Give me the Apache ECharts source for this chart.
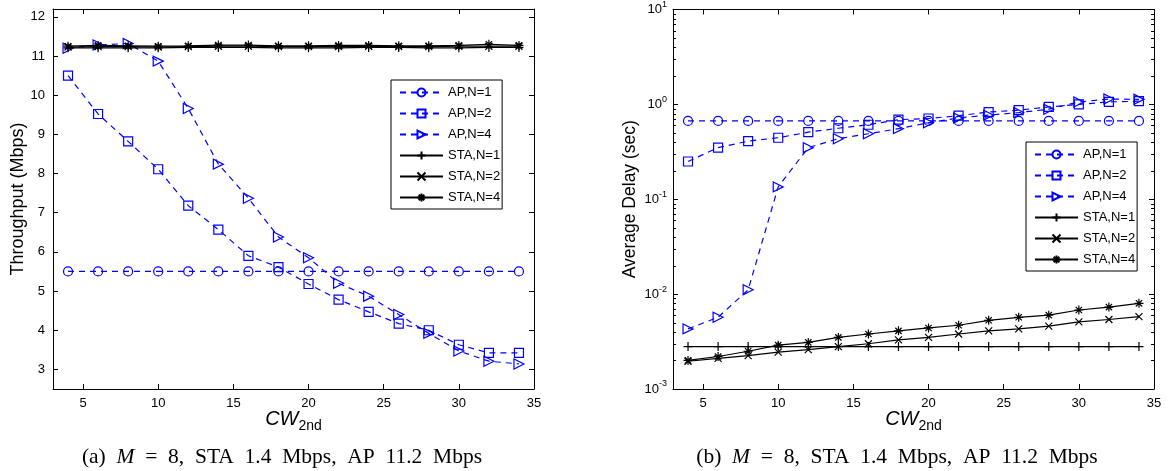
<!DOCTYPE html>
<html><head><meta charset="utf-8">
<script src="https://cdn.jsdelivr.net/npm/echarts@6/dist/echarts.min.js"></script>
<style>html,body{margin:0;padding:0;background:#fff}#c{width:1168px;height:471px}</style>
</head><body><div id="c"></div>
<script>
// ---- data ----
const cw = [4,6,8,10,12,14,16,18,20,22,24,26,28,30,32,34];
const xTicks = [5,10,15,20,25,30,35];
const tpTicks = [3,4,5,6,7,8,9,10,11,12];
const legendNames = ['AP,N=1','AP,N=2','AP,N=4','STA,N=1','STA,N=2','STA,N=4'];
// (a) throughput (Mbps)
const tpApN1 = [5.5,5.5,5.5,5.5,5.5,5.5,5.5,5.5,5.5,5.5,5.5,5.5,5.5,5.5,5.5,5.5];
const tpApN2 = [10.5,9.52,8.82,8.11,7.18,6.57,5.9,5.61,5.18,4.78,4.47,4.17,4.0,3.63,3.42,3.42];
const tpApN4 = [11.2,11.28,11.32,10.87,9.66,8.24,7.37,6.38,5.85,5.2,4.87,4.4,3.92,3.47,3.21,3.14];
const tpStaN1 = [11.21,11.21,11.21,11.21,11.22,11.22,11.22,11.21,11.21,11.21,11.22,11.22,11.21,11.21,11.22,11.22];
const tpStaN2 = [11.23,11.24,11.24,11.23,11.24,11.25,11.25,11.24,11.24,11.24,11.25,11.24,11.24,11.25,11.25,11.25];
const tpStaN4 = [11.25,11.27,11.26,11.25,11.26,11.28,11.28,11.26,11.26,11.27,11.27,11.26,11.26,11.27,11.30,11.27];
// (b) average delay (sec)
const dlApN1 = [0.67,0.67,0.67,0.67,0.67,0.67,0.67,0.67,0.67,0.67,0.67,0.67,0.67,0.67,0.67,0.67];
const dlApN2 = [0.25,0.35,0.41,0.445,0.51,0.56,0.61,0.69,0.71,0.76,0.83,0.87,0.94,1.0,1.06,1.08];
const dlApN4 = [0.0043,0.0057,0.0111,0.135,0.35,0.435,0.49,0.555,0.64,0.72,0.77,0.82,0.89,1.06,1.14,1.13];
const dlStaN1 = [0.0028,0.0028,0.0028,0.0028,0.0028,0.0028,0.0028,0.0028,0.0028,0.0028,0.0028,0.0028,0.0028,0.0028,0.0028,0.0028];
const dlStaN2 = [0.00196,0.0021,0.00225,0.00245,0.0026,0.0028,0.003,0.0033,0.0035,0.0038,0.0041,0.0043,0.0046,0.0051,0.0054,0.0058];
const dlStaN4 = [0.002,0.0022,0.0025,0.0029,0.0031,0.0035,0.0038,0.0041,0.0044,0.0047,0.0053,0.0057,0.006,0.0068,0.0073,0.008];
const logMinor = [];
[0.001,0.01,0.1,1].forEach(d=>{for(let k=2;k<=9;k++) logMinor.push(+(d*k).toPrecision(3));});

// ---- styling ----
const BLUE = '#0000ff', BLACK = '#000000';
const SANS = 'Liberation Sans, Arial, sans-serif';
const SERIF = 'Liberation Serif, Times New Roman, serif';
const DASH = [6,5];
const PLUS = 'path://M5,0L5,10M0,5L10,5';
const CROSS = 'path://M0,0L10,10M10,0L0,10';
const STAR = 'path://M5,0L5,10M0,5L10,5M1.5,1.5L8.5,8.5M8.5,1.5L1.5,8.5';

const zip = (xs, ys) => xs.map((x,i)=>[x, ys[i]]);

function mk(name, xi, yi, ys, kind){
  const ap = name.startsWith('AP');
  const s = {
    name, type:'line', xAxisIndex:xi, yAxisIndex:yi, data: zip(cw, ys),
    animation:false, symbolKeepAspect:true, z: ap?3:4,
    lineStyle:{color: ap?BLUE:BLACK, width:1.2, type: ap?DASH:'solid'},
    itemStyle:{color:'transparent', borderColor: ap?BLUE:BLACK, borderWidth:1.2},
    emphasis:{disabled:true}
  };
  if(kind==='o'){s.symbol='circle'; s.symbolSize=9;}
  if(kind==='s'){s.symbol='rect'; s.symbolSize=9;}
  if(kind==='t'){s.symbol='triangle'; s.symbolSize=[10,10]; s.symbolRotate=-90;}
  if(kind==='+'){s.symbol=PLUS; s.symbolSize=9;}
  if(kind==='x'){s.symbol=CROSS; s.symbolSize=7;}
  if(kind==='*'){s.symbol=STAR; s.symbolSize=9;}
  return s;
}

const axLine = {show:true, onZero:false, lineStyle:{color:BLACK, width:1}};
const tickIn = {show:true, inside:true, length:5, lineStyle:{color:BLACK, width:1}};
const lbl = {color:BLACK, fontSize:13, fontFamily:SANS};

function xAx(gi, top){
  return {type:'value', gridIndex:gi, position: top?'top':'bottom', min:3, max:35,
    axisLine:axLine, axisTick:Object.assign({customValues:xTicks}, tickIn),
    axisLabel: top?{show:false}:Object.assign({customValues:xTicks, margin:8}, lbl),
    splitLine:{show:false},
    name: top?'':'{i|CW}{s|2nd}', nameLocation:'middle', nameGap:16, nameMoveOverlap:false,
    nameTextStyle:{rich:{
      i:{fontStyle:'italic', fontSize:20, fontFamily:SANS, color:BLACK},
      s:{fontSize:14, fontFamily:SANS, color:BLACK, padding:[14,0,0,0]}}}
  };
}

function legendCfg(names, left, top, fmt){
  return {data:names.map(n=>({name:n})), orient:'vertical', left, top,
     itemWidth:43, itemHeight:10, itemGap:8, padding:[6,2,5,8],
     borderColor:BLACK, borderWidth:1, borderRadius:0, backgroundColor:'#fff',
     textStyle:{fontSize:13, fontFamily:SANS, color:BLACK}, selectedMode:false,
     formatter:fmt};
}

const capRich = {m:{fontSize:21.5, fontStyle:'italic', fontFamily:SERIF, color:BLACK}};
const capText = (tag)=> tag+'  {m|M}  =  8,  STA  1.4  Mbps,  AP  11.2  Mbps';

const option = {
  backgroundColor:'#fff',
  animation:false,
  grid:[
    {left:53, top:9, width:481, height:380},
    {left:673, top:9, width:481, height:380}
  ],
  xAxis:[xAx(0,false), xAx(0,true), xAx(1,false), xAx(1,true)],
  yAxis:[
    {type:'value', gridIndex:0, min:2.5, max:12.2, position:'left',
     axisLine:axLine, axisTick:Object.assign({customValues:tpTicks}, tickIn),
     axisLabel:Object.assign({customValues:tpTicks, margin:8}, lbl), splitLine:{show:false},
     name:'Throughput (Mbps)', nameLocation:'middle', nameGap:26,
     nameTextStyle:{fontSize:18, fontFamily:SANS, color:BLACK}},
    {type:'value', gridIndex:0, min:2.5, max:12.2, position:'right',
     axisLine:axLine, axisTick:Object.assign({customValues:tpTicks}, tickIn),
     axisLabel:{show:false}, splitLine:{show:false}},
    {type:'log', gridIndex:1, min:0.001, max:10, logBase:10, position:'left',
     axisLine:axLine, axisTick:tickIn, splitLine:{show:false},
     axisLabel:{margin:6, formatter:(v)=>'{b|10}{e|'+Math.round(Math.log10(v))+'}',
       rich:{b:{fontSize:13, fontFamily:SANS, color:BLACK},
             e:{fontSize:9, fontFamily:SANS, color:BLACK, padding:[0,0,10,0]}}},
     name:'Average Delay (sec)', nameLocation:'middle', nameGap:34,
     nameTextStyle:{fontSize:17.5, fontFamily:SANS, color:BLACK}},
    {type:'log', gridIndex:1, min:0.001, max:10, logBase:10, position:'right',
     axisLine:axLine, axisTick:tickIn, axisLabel:{show:false}, splitLine:{show:false}}
  ],
  legend:[
    legendCfg(legendNames, 391, 80, n=>n),
    legendCfg(legendNames.map(n=>n+' '), 1026, 142, n=>n.trim())
  ],
  title:[
    {text:capText('(a)'), left:277, top:441, textAlign:'center',
     textStyle:{fontSize:21.5, fontWeight:'normal', fontFamily:SERIF, color:BLACK, rich:capRich}},
    {text:capText('(b)'), left:892, top:441, textAlign:'center',
     textStyle:{fontSize:21.5, fontWeight:'normal', fontFamily:SERIF, color:BLACK, rich:capRich}}
  ],
  series:[
    mk('AP,N=1',0,0,tpApN1,'o'), mk('AP,N=2',0,0,tpApN2,'s'), mk('AP,N=4',0,0,tpApN4,'t'),
    mk('STA,N=1',0,0,tpStaN1,'+'), mk('STA,N=2',0,0,tpStaN2,'x'), mk('STA,N=4',0,0,tpStaN4,'*'),
    mk('AP,N=1 ',2,2,dlApN1,'o'), mk('AP,N=2 ',2,2,dlApN2,'s'), mk('AP,N=4 ',2,2,dlApN4,'t'),
    mk('STA,N=1 ',2,2,dlStaN1,'+'), mk('STA,N=2 ',2,2,dlStaN2,'x'), mk('STA,N=4 ',2,2,dlStaN4,'*'),
    {type:'custom', name:'minor', xAxisIndex:2, yAxisIndex:2, silent:true, animation:false,
     data: logMinor.map(v=>[3, v]),
     renderItem:(params, api)=>{
       const cs = params.coordSys;
       const p = api.coord([3, api.value(1)]);
       const y = Math.round(p[1])+0.5;
       return {type:'group', children:[
         {type:'line', shape:{x1:cs.x, y1:y, x2:cs.x+3, y2:y}, style:{stroke:BLACK, lineWidth:1}},
         {type:'line', shape:{x1:cs.x+cs.width-3, y1:y, x2:cs.x+cs.width, y2:y}, style:{stroke:BLACK, lineWidth:1}}
       ]};
     }}
  ]
};
const chart = echarts.init(document.getElementById('c'), null, {renderer:'canvas'});
chart.setOption(option);
</script></body></html>
